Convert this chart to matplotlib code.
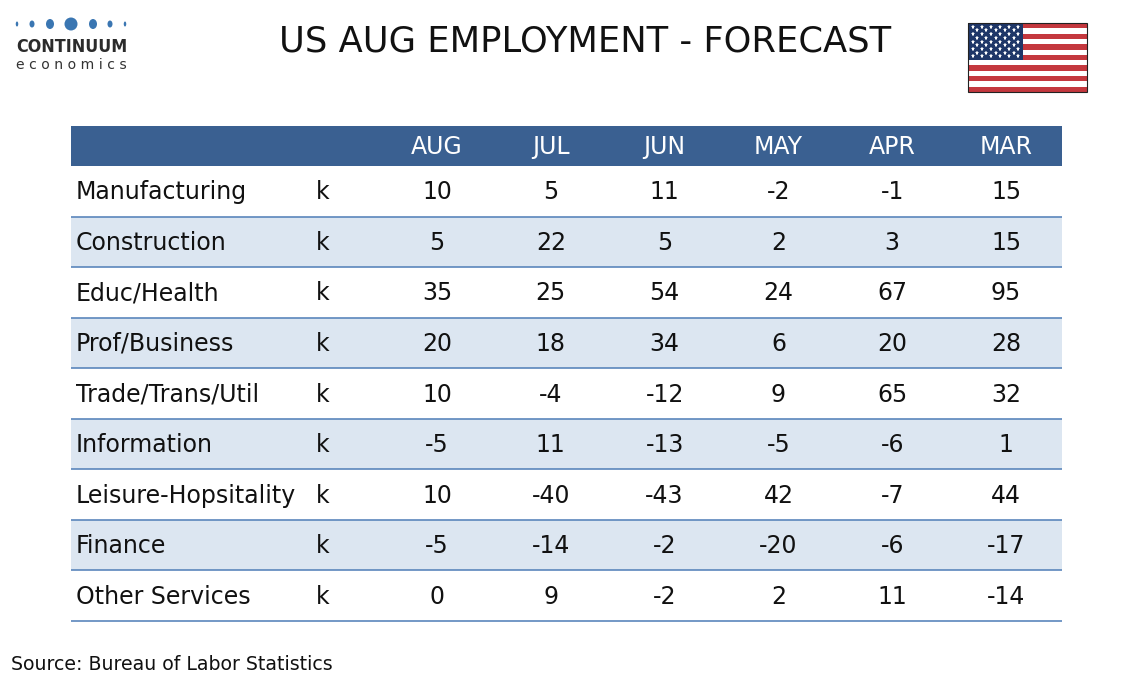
import matplotlib
matplotlib.use("Agg")
import matplotlib.pyplot as plt
from matplotlib.patches import Rectangle, Ellipse

plt.rcParams["font.family"] = ["DejaVu Sans"]

# ---------------- data ----------------
title = "US AUG EMPLOYMENT - FORECAST"
source = "Source: Bureau of Labor Statistics"
sectors = ["Manufacturing", "Construction", "Educ/Health", "Prof/Business",
           "Trade/Trans/Util", "Information", "Leisure-Hopsitality", "Finance",
           "Other Services"]
unit = "k"
months = ["AUG", "JUL", "JUN", "MAY", "APR", "MAR"]
aug = [10, 5, 35, 20, 10, -5, 10, -5, 0]
jul = [5, 22, 25, 18, -4, 11, -40, -14, 9]
jun = [11, 5, 54, 34, -12, -13, -43, -2, -2]
may = [-2, 2, 24, 6, 9, -5, 42, -20, 2]
apr = [-1, 3, 67, 20, 65, -6, -7, -6, 11]
mar = [15, 15, 95, 28, 32, 1, 44, -17, -14]
columns = [aug, jul, jun, may, apr, mar]

# ---------------- style ----------------
HEADER = "#3A6091"
LIGHT = "#DCE6F1"
LINE = "#5B86BC"
TXT = "#111111"

W, H = 1134, 680
fig = plt.figure(figsize=(W / 100, H / 100), dpi=100)
ax = fig.add_axes([0, 0, 1, 1])
ax.set_xlim(0, W)
ax.set_ylim(H, 0)
ax.axis("off")
renderer = fig.canvas.get_renderer()


def fit_width(t, target_px):
    bb = t.get_window_extent(renderer=renderer)
    t.set_fontsize(t.get_fontsize() * target_px / bb.width)


# table geometry (pixels)
x0, x1 = 71, 1062
head_top, head_bot = 126, 166
tab_bot = 621
n = len(sectors)
rh = (tab_bot - head_bot) / n
label_x = 76
unit_x = 316
col_x0, col_dx = 437, 113.8
FS = 17

# header
ax.add_patch(Rectangle((x0, head_top), x1 - x0, head_bot - head_top,
                       facecolor=HEADER, edgecolor="none"))
for j, m in enumerate(months):
    ax.text(col_x0 + j * col_dx, (head_top + head_bot) / 2 + 1, m,
            color="white", fontsize=FS, ha="center", va="center")

# rows
for i, name in enumerate(sectors):
    top = head_bot + i * rh
    if i % 2 == 1:
        ax.add_patch(Rectangle((x0, top), x1 - x0, rh, facecolor=LIGHT,
                               edgecolor="none"))
    ax.plot([x0, x1], [top + rh, top + rh], color=LINE, lw=1.2,
            solid_capstyle="butt")
    cy = top + rh / 2 + 1
    ax.text(label_x, cy, name, color=TXT, fontsize=FS, ha="left", va="center")
    ax.text(unit_x, cy, unit, color=TXT, fontsize=FS, ha="left", va="center")
    for j, col in enumerate(columns):
        ax.text(col_x0 + j * col_dx, cy, f"{col[i]}", color=TXT, fontsize=FS,
                ha="center", va="center")

# title and source
t = ax.text(279, 42, title, fontsize=25, ha="left", va="center", color="#111111")
fit_width(t, 611)
s = ax.text(11, 664, source, fontsize=13.6, ha="left", va="center", color="#111111")
fit_width(s, 321)

# logo
dot_x = [17, 32, 50, 71, 93, 110, 125]
dot_w = [2.5, 5, 8, 13, 8, 5, 2.5]
dot_h = [5, 7, 10, 13, 10, 7, 5]
for dx, dw, dh in zip(dot_x, dot_w, dot_h):
    ax.add_patch(Ellipse((dx, 24), dw, dh, facecolor="#3A76B2", edgecolor="none"))
c = ax.text(16, 47, "CONTINUUM", fontsize=14, fontweight="bold",
            fontstretch="condensed", color="#2B2B2B", ha="left", va="center")
fit_width(c, 111)
e = ax.text(16, 65, "e c o n o m i c s", fontsize=12.5, color="#333333",
            ha="left", va="center")
fit_width(e, 111)

# flag
fx0, fx1, fy0, fy1 = 968, 1087, 23, 92
sh = (fy1 - fy0) / 13
for k in range(13):
    ax.add_patch(Rectangle((fx0, fy0 + k * sh), fx1 - fx0, sh,
                           facecolor="#C4383E" if k % 2 == 0 else "white",
                           edgecolor="none"))
cx1, cy1 = 1023, fy0 + 7 * sh
ax.add_patch(Rectangle((fx0, fy0), cx1 - fx0, cy1 - fy0, facecolor="#1F3768",
                       edgecolor="none"))
sx, sy = [], []
for r in range(9):
    yy = fy0 + (cy1 - fy0) * (r + 1) / 10
    if r % 2 == 0:
        for cc in range(6):
            sx.append(fx0 + (cx1 - fx0) * (2 * cc + 1) / 12)
            sy.append(yy)
    else:
        for cc in range(5):
            sx.append(fx0 + (cx1 - fx0) * (2 * cc + 2) / 12)
            sy.append(yy)
ax.plot(sx, sy, ls="none", marker="*", ms=3.6, color="white", mew=0)
ax.add_patch(Rectangle((fx0, fy0), fx1 - fx0, fy1 - fy0, facecolor="none",
                       edgecolor="#222222", lw=0.8))

fig.savefig("out.png", dpi=100)
